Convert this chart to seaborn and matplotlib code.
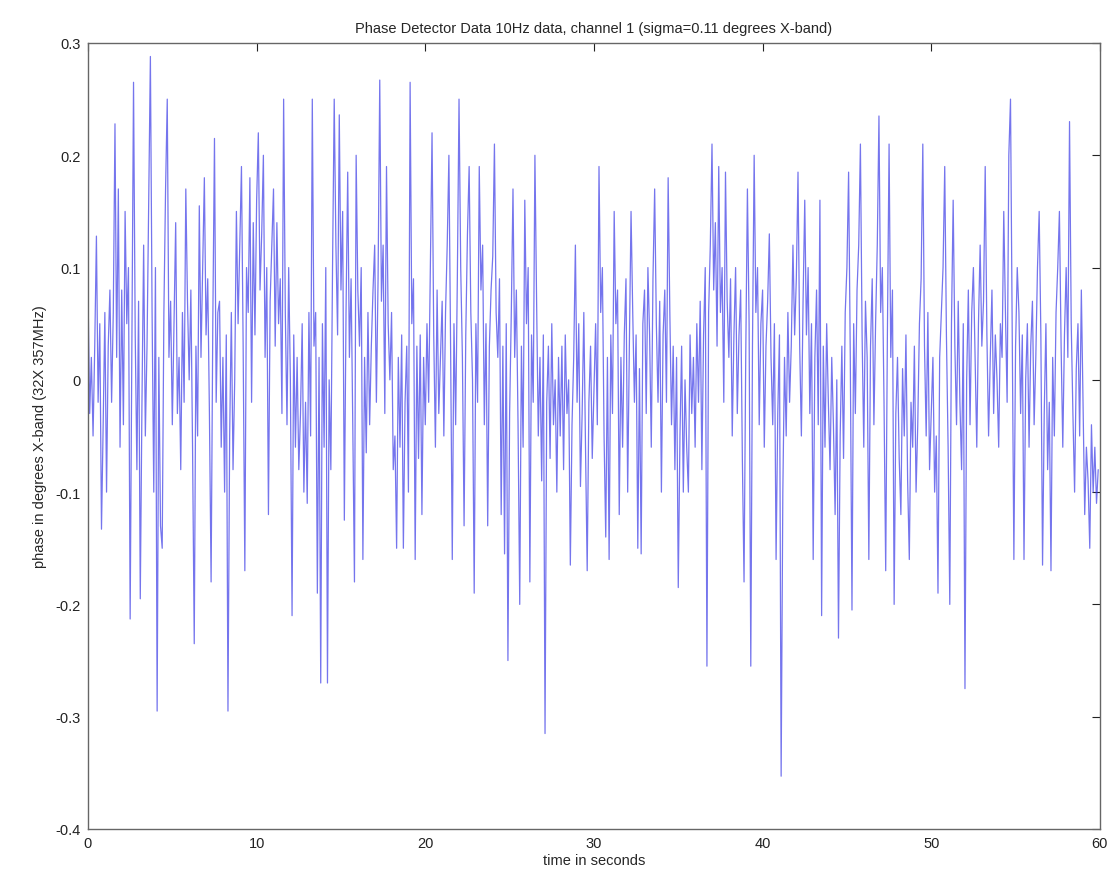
import numpy as np
import pandas as pd
import matplotlib
matplotlib.use("Agg")
import matplotlib.pyplot as plt
import seaborn as sns

# ── DATA (10 Hz samples) ────────────────────────────────────
sample_rate = 10
phase = [
    0.08, -0.03, 0.02, -0.05, 0.03, 0.128, -0.02, 0.05, -0.133, -0.04, 0.06, -0.1, 0.03, 0.08, -0.02, 0.06, 0.228, 0.02, 0.17, -0.06,
    0.08, -0.04, 0.15, 0.05, 0.1, -0.213, 0.03, 0.265, 0.04, -0.08, 0.07, -0.195, -0.02, 0.12, -0.05, 0.03, 0.16, 0.288, 0.06, -0.1,
    0.1, -0.295, 0.02, -0.13, -0.15, 0.06, 0.17, 0.25, 0.02, 0.07, -0.04, 0.05, 0.14, -0.03, 0.02, -0.08, 0.06, -0.02, 0.17, 0.07,
    0.0, 0.08, -0.06, -0.235, 0.03, -0.05, 0.155, 0.02, 0.1, 0.18, 0.04, 0.09, -0.03, -0.18, 0.05, 0.215, -0.02, 0.06, 0.07, -0.06,
    0.02, -0.1, 0.04, -0.295, -0.05, 0.06, -0.08, 0.0, 0.15, 0.05, 0.12, 0.19, 0.03, -0.17, 0.1, 0.06, 0.18, -0.02, 0.14, 0.04,
    0.16, 0.22, 0.08, 0.13, 0.2, 0.02, 0.1, -0.12, 0.07, 0.12, 0.17, 0.03, 0.14, 0.05, 0.09, -0.03, 0.25, 0.06, -0.04, 0.1,
    0.0, -0.21, 0.04, -0.06, 0.02, -0.08, -0.03, 0.05, -0.1, -0.02, -0.11, 0.06, -0.05, 0.25, 0.03, 0.06, -0.19, 0.02, -0.27, 0.05,
    -0.06, 0.1, -0.27, 0.0, -0.08, 0.1, 0.25, 0.12, 0.04, 0.236, 0.08, 0.15, -0.125, 0.06, 0.185, 0.02, 0.09, -0.04, -0.18, 0.2,
    0.08, 0.03, 0.1, -0.16, 0.02, -0.065, 0.06, -0.04, 0.03, 0.08, 0.12, -0.02, 0.09, 0.267, 0.07, 0.12, -0.03, 0.19, 0.05, 0.0,
    0.06, -0.08, -0.05, -0.15, 0.02, -0.06, 0.04, -0.15, -0.02, 0.03, -0.1, 0.265, 0.05, 0.09, -0.16, 0.03, -0.07, 0.04, -0.12, 0.02,
    -0.04, 0.05, -0.02, 0.1, 0.22, 0.04, -0.06, 0.08, -0.03, 0.02, 0.07, -0.05, 0.06, 0.12, 0.2, 0.03, -0.16, 0.05, -0.04, 0.09,
    0.25, 0.1, 0.02, -0.13, 0.04, 0.13, 0.19, 0.06, 0.0, -0.19, 0.05, -0.02, 0.19, 0.08, 0.12, -0.04, 0.05, -0.13, 0.03, 0.08,
    0.11, 0.21, 0.06, 0.02, 0.09, -0.12, 0.03, -0.155, 0.05, -0.25, -0.03, 0.06, 0.17, 0.02, 0.08, -0.04, -0.2, 0.03, -0.06, 0.16,
    0.05, 0.1, -0.18, 0.04, -0.02, 0.2, 0.07, -0.05, 0.02, -0.09, 0.04, -0.315, -0.02, 0.03, -0.07, 0.05, -0.04, 0.0, -0.1, 0.02,
    -0.05, 0.03, -0.08, 0.04, -0.03, 0.0, -0.165, -0.04, 0.02, 0.12, -0.02, 0.05, -0.095, -0.03, 0.06, -0.06, -0.17, -0.02, 0.03, -0.07,
    -0.01, 0.05, -0.04, 0.19, 0.06, 0.1, -0.05, -0.14, 0.02, -0.16, 0.04, -0.03, 0.15, 0.05, 0.08, -0.12, 0.02, -0.06, 0.04, 0.09,
    -0.1, 0.03, 0.15, 0.06, -0.02, 0.04, -0.15, 0.01, -0.155, 0.05, 0.08, -0.03, 0.1, 0.04, -0.06, 0.09, 0.17, 0.05, -0.02, 0.07,
    -0.1, 0.04, 0.08, -0.02, 0.18, 0.06, -0.04, 0.03, -0.08, 0.02, -0.185, -0.05, 0.03, -0.1, 0.0, -0.06, -0.1, 0.04, -0.03, 0.02,
    -0.06, 0.05, -0.02, 0.07, -0.08, 0.04, 0.1, -0.255, 0.06, 0.12, 0.21, 0.08, 0.14, 0.03, 0.19, 0.06, 0.1, -0.02, 0.185, 0.07,
    0.02, 0.09, -0.05, 0.04, 0.1, -0.03, 0.04, 0.08, -0.07, -0.18, 0.02, 0.17, 0.05, -0.255, 0.03, 0.2, 0.06, 0.1, -0.04, 0.05,
    0.08, -0.06, 0.03, 0.07, 0.13, 0.02, -0.04, 0.05, -0.16, -0.03, 0.04, -0.353, -0.1, 0.02, -0.05, 0.06, -0.02, 0.03, 0.12, 0.04,
    0.09, 0.185, 0.03, -0.05, 0.07, 0.16, 0.04, 0.1, -0.03, 0.05, -0.16, 0.02, 0.08, -0.04, 0.16, -0.21, 0.03, -0.06, 0.05, -0.02,
    -0.08, 0.02, -0.04, -0.12, 0.0, -0.23, -0.05, 0.03, -0.07, 0.06, 0.1, 0.185, 0.02, -0.205, 0.05, -0.03, 0.08, 0.12, 0.21, 0.04,
    -0.06, 0.07, 0.02, -0.16, 0.03, 0.09, -0.04, 0.05, 0.12, 0.235, 0.06, 0.1, -0.02, -0.17, 0.04, 0.21, 0.02, 0.08, -0.2, -0.03,
    0.02, -0.07, -0.12, 0.01, -0.05, 0.04, -0.09, -0.16, -0.02, -0.06, 0.03, -0.1, -0.04, 0.05, 0.09, 0.21, 0.03, -0.05, 0.06, -0.08,
    -0.03, 0.02, -0.1, -0.05, -0.19, 0.02, 0.06, 0.1, 0.19, 0.04, -0.06, -0.2, 0.05, 0.16, 0.03, -0.04, 0.07, -0.02, -0.08, 0.05,
    -0.275, 0.0, 0.08, -0.04, 0.06, 0.1, 0.02, -0.06, 0.05, 0.12, 0.03, 0.07, 0.19, 0.04, -0.05, 0.02, 0.08, -0.03, 0.04, 0.0,
    -0.06, 0.05, 0.02, 0.15, 0.06, -0.02, 0.2, 0.25, 0.05, -0.16, 0.03, 0.1, 0.06, -0.03, 0.04, -0.16, 0.0, 0.05, -0.06, 0.03,
    0.07, -0.04, 0.02, 0.1, 0.15, 0.04, -0.165, -0.03, 0.05, -0.08, -0.02, -0.17, 0.02, -0.05, 0.06, 0.1, 0.15, 0.03, -0.06, 0.04,
    0.1, 0.02, 0.23, 0.05, -0.03, -0.1, 0.01, 0.05, -0.05, 0.08, -0.02, -0.12, -0.06, -0.09, -0.15, -0.04, -0.1, -0.06, -0.11, -0.08,
]
x_ticks = [0, 10, 20, 30, 40, 50, 60]
y_ticks = [-0.4, -0.3, -0.2, -0.1, 0, 0.1, 0.2, 0.3]
y_tick_labels = ['-0.4', '-0.3', '-0.2', '-0.1', '0', '0.1', '0.2', '0.3']

df = pd.DataFrame({'t': np.arange(len(phase)) / sample_rate, 'phase': phase})

# ── PLOT ────────────────────────────────────────────────────
sns.set_style("white")
plt.rcParams['font.family'] = ['Liberation Sans', 'DejaVu Sans']
plt.rcParams['axes.unicode_minus'] = False

fig = plt.figure(figsize=(11.11, 8.87), dpi=100)
ax = fig.add_axes([0.0792, 0.0643, 0.9108, 0.8861])

sns.lineplot(data=df, x='t', y='phase', ax=ax, color='#3a3ae6',
             linewidth=0.9, alpha=0.7)

ax.set_xlim(0, 60)
ax.set_ylim(-0.4, 0.3)
ax.set_xticks(x_ticks)
ax.set_yticks(y_ticks)
ax.set_yticklabels(y_tick_labels)
ax.tick_params(direction='in', length=6, width=0.8, top=True, right=True,
               labelsize=10.5, colors='#222222', pad=5)
for s in ax.spines.values():
    s.set_color('#666666')
    s.set_linewidth(1.0)

ax.set_title('Phase Detector Data 10Hz data, channel 1 (sigma=0.11 degrees X-band)',
             fontsize=10.5, pad=8)
ax.set_xlabel('time in seconds', fontsize=10.5, labelpad=2)
ax.set_ylabel('phase in degrees X-band (32X 357MHz)', fontsize=10.5, labelpad=6)

fig.savefig('out.png', dpi=100)
